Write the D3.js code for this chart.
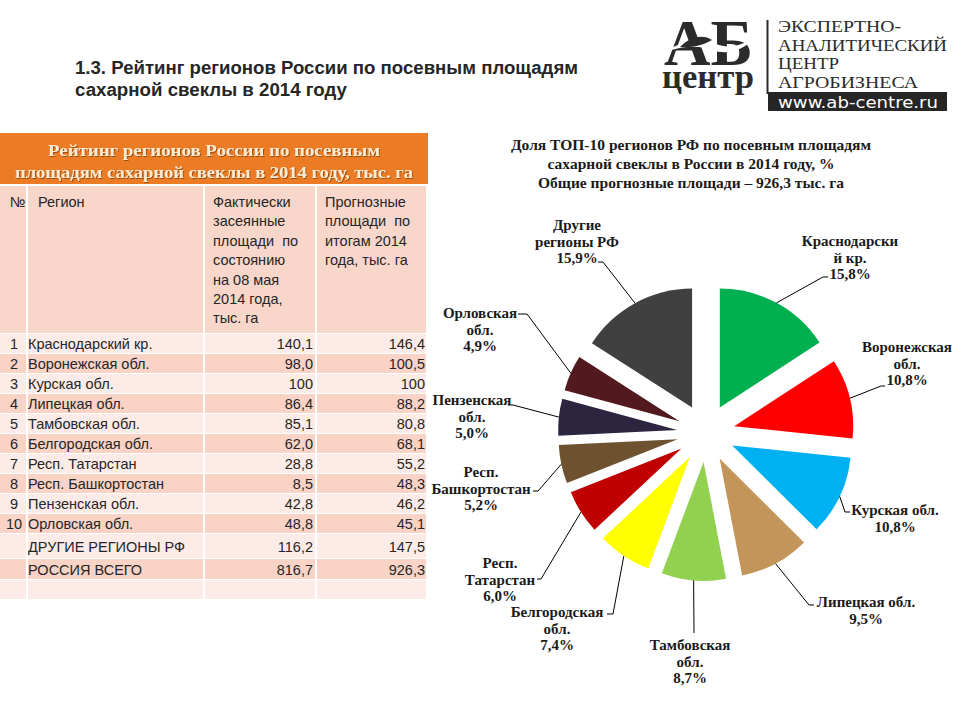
<!DOCTYPE html>
<html><head><meta charset="utf-8">
<script src="https://cdn.jsdelivr.net/npm/d3@7"></script>
<style>body{margin:0;background:#fff} svg{display:block}</style>
</head><body>
<svg id="c" width="960" height="720"></svg>
<script>
// ---------- DATA ----------
const ranks = ["1","2","3","4","5","6","7","8","9","10","",""];
const regions = ["Краснодарский кр.","Воронежская обл.","Курская обл.","Липецкая обл.","Тамбовская обл.","Белгородская обл.","Респ. Татарстан","Респ. Башкортостан","Пензенская обл.","Орловская обл.","ДРУГИЕ РЕГИОНЫ РФ","РОССИЯ ВСЕГО"];
const actualText = ["140,1","98,0","100","86,4","85,1","62,0","28,8","8,5","42,8","48,8","116,2","816,7"];
const forecastText = ["146,4","100,5","100","88,2","80,8","68,1","55,2","48,3","46,2","45,1","147,5","926,3"];
const pieCategories = [["Краснодарски","й кр."],["Воронежская","обл."],["Курская обл."],["Липецкая обл."],["Тамбовская","обл."],["Белгородская","обл."],["Респ.","Татарстан"],["Респ.","Башкортостан"],["Пензенская","обл."],["Орловская","обл."],["Другие","регионы РФ"]];
const pieColors = ["#00B050","#FF0000","#00B0F0","#C4955A","#92D050","#FFFF00","#C00000","#6E5230","#2D2540","#521A1F","#404040"];
const tableTitle = ["Рейтинг регионов России по посевным","площадям сахарной свеклы в 2014 году, тыс. га"];
const colHeaders = [["№"],["Регион"],["Фактически","засеянные","площади  по","состоянию","на 08 мая","2014 года,","тыс. га"],["Прогнозные","площади  по","итогам 2014","года, тыс. га"]];
const pageTitle = ["1.3. Рейтинг регионов России по посевным площадям","сахарной свеклы в 2014 году"];
const pieTitle = ["Доля ТОП-10 регионов РФ по посевным площадям","сахарной свеклы в России в 2014 году, %","Общие прогнозные площади – 926,3 тыс. га"];

const parseNum = s => +s.replace(",", ".");
const pieValues = forecastText.slice(0, 11).map(parseNum);
const total = parseNum(forecastText[11]);

// ---------- LAYOUT ----------
const labelLayout = [
  {x:850, y:241, pts:[[823,277],[828,277]]},
  {x:907, y:347, pts:[[881,386],[885,386]]},
  {x:895, y:510, pts:[[845,512],[850,512]]},
  {x:866, y:602, pts:[[809,605],[814,605]]},
  {x:690, y:645, pts:[[694,633]]},
  {x:557, y:612, pts:[[613,614],[607,614]]},
  {x:500, y:563, pts:[[541,579],[537,579]]},
  {x:481, y:472, pts:[[538,491],[533,491]]},
  {x:472, y:400, pts:[[513,405],[508,405]]},
  {x:480, y:313, pts:[[527,314],[518,314]]},
  {x:577, y:225, pts:[[603,262],[598,262]]}
];

const svg = d3.select("#c");
const defs = svg.append("defs");
const f = defs.append("filter").attr("id","sh").attr("x","-5%").attr("y","-20%").attr("width","110%").attr("height","140%");
f.append("feDropShadow").attr("dx",1).attr("dy",1).attr("stdDeviation",0.6).attr("flood-color","#7a3a00").attr("flood-opacity",0.7);

// ---------- PAGE TITLE ----------
svg.selectAll("text.pt").data(pageTitle).join("text")
  .attr("x", 75).attr("y", (d,i) => 74 + i*22)
  .attr("font-family", "'Liberation Sans Narrow','Arial Narrow','Liberation Sans',sans-serif")
  .attr("font-weight", "bold").attr("font-size", 18).attr("fill", "#262626")
  .attr("textLength", (d,i) => i === 0 ? 503 : 272).attr("lengthAdjust", "spacingAndGlyphs")
  .text(d => d);

// ---------- LOGO ----------
const logo = svg.append("g");
const lt = logo.append("text").attr("font-family","'Liberation Serif',serif")
  .attr("font-weight","bold").attr("fill","#2b2b2b");
lt.append("tspan").attr("x", 664).attr("y", 65).attr("font-size",66)
  .attr("textLength",89).attr("lengthAdjust","spacingAndGlyphs").text("АБ");
lt.append("tspan").attr("x", 662).attr("y", 88).attr("font-size",34)
  .attr("textLength",92).attr("lengthAdjust","spacingAndGlyphs").text("центр");
logo.append("path").attr("d","M664,52 C684,40 700,38 716,44 C728,49 740,46 754,38 C742,52 726,55 712,50 C698,45 684,46 664,52 Z")
  .attr("fill","#fff");
logo.append("path").attr("d","M680,47 C690,36 704,34 712,40 C702,46 690,48 680,47 Z").attr("fill","#2b2b2b");
logo.append("line").attr("x1",767.5).attr("x2",767.5).attr("y1",20).attr("y2",94).attr("stroke","#2b2b2b").attr("stroke-width",2);
const logoLines = ["ЭКСПЕРТНО-","АНАЛИТИЧЕСКИЙ","ЦЕНТР","АГРОБИЗНЕСА"];
const logoW = [123, 169, 61, 140];
logo.selectAll("text.ll").data(logoLines).join("text")
  .attr("x", 778).attr("y", (d,i) => 32 + i*18.5)
  .attr("font-family","'Liberation Serif',serif").attr("font-size",17).attr("fill","#2b2b2b")
  .attr("textLength",(d,i)=>logoW[i]).attr("lengthAdjust","spacingAndGlyphs").text(d => d);
logo.append("rect").attr("x",768).attr("y",92).attr("width",179).attr("height",19).attr("fill","#262626");
logo.append("text").attr("x",778).attr("y",107.5).attr("font-family","'DejaVu Sans Condensed','DejaVu Sans',sans-serif")
  .attr("font-size",16).attr("fill","#fff").attr("textLength",160).attr("lengthAdjust","spacingAndGlyphs").text("www.ab-centre.ru");

// ---------- TABLE ----------
const colX = [0, 28, 205, 317, 428];
const tbl = svg.append("g");
tbl.append("rect").attr("x",0).attr("y",133).attr("width",428).attr("height",51).attr("fill","#EC7B25");
const ttLen = [332, 398];
tbl.selectAll("text.tt").data(tableTitle).join("text")
  .attr("x", 214).attr("y", (d,i) => 156 + i*22).attr("text-anchor","middle")
  .attr("font-family","'Liberation Serif','Times New Roman',serif").attr("font-weight","bold")
  .attr("font-size",17.5).attr("fill","#FCEBD3").attr("filter","url(#sh)")
  .attr("textLength",(d,i)=>ttLen[i]).attr("lengthAdjust","spacingAndGlyphs").text(d => d);

const headerTop = 186, headerBot = 334;
const rowTops = d3.range(10).map(i => 334 + 20*i).concat([534, 559, 580]);
const rowBots = rowTops.slice(1).concat([600]);
colX.slice(0,4).forEach((x,j) => {
  tbl.append("rect").attr("x", x).attr("y", headerTop).attr("width", colX[j+1]-x-2).attr("height", headerBot-headerTop-1).attr("fill","#F9D6CA");
});
rowTops.forEach((t,i) => {
  const fill = i % 2 === 0 ? "#FCEBE6" : "#F9D3C6";
  colX.slice(0,4).forEach((x,j) => {
    tbl.append("rect").attr("x", x).attr("y", t).attr("width", colX[j+1]-x-2).attr("height", rowBots[i]-t-1).attr("fill", fill);
  });
});
const hx = [10, 38, 213, 325];
colHeaders.forEach((lines,j) => {
  tbl.selectAll(null).data(lines).join("text")
    .attr("x", hx[j]).attr("y", (d,i) => 207 + i*19.4)
    .attr("font-family","'Liberation Sans',Arial,sans-serif").attr("font-size",14.5).attr("fill","#262626")
    .style("white-space","pre").text(d => d);
});
const rowCenters = rowTops.map((t,i) => (t + rowBots[i]) / 2);
const rowsData = regions.map((r,i) => ({rank: ranks[i], region: r, a: actualText[i], f: forecastText[i], cy: rowCenters[i]}));
const tf = "'Liberation Sans',Arial,sans-serif";
const rg = tbl.selectAll("g.row").data(rowsData).join("g");
rg.append("text").attr("x",14).attr("y",d=>d.cy+5).attr("text-anchor","middle").attr("font-family",tf).attr("font-size",14.5).attr("fill","#262626").text(d=>d.rank);
rg.append("text").attr("x",28).attr("y",d=>d.cy+5).attr("font-family",tf).attr("font-size",14.5).attr("fill","#262626").text(d=>d.region);
rg.append("text").attr("x",313).attr("y",d=>d.cy+5).attr("text-anchor","end").attr("font-family",tf).attr("font-size",14.5).attr("fill","#262626").text(d=>d.a);
rg.append("text").attr("x",425).attr("y",d=>d.cy+5).attr("text-anchor","end").attr("font-family",tf).attr("font-size",14.5).attr("fill","#262626").text(d=>d.f);

// ---------- PIE ----------
const pt = svg.append("g");
pt.selectAll("text").data(pieTitle).join("text")
  .attr("x", 691).attr("y", (d,i) => 150 + i*19).attr("text-anchor","middle")
  .attr("font-family","'Liberation Serif','Times New Roman',serif").attr("font-weight","bold")
  .attr("font-size",15.5).attr("fill","#1a1a1a").text(d => d);

const cx = 706, cy = 433, R = 119, explode = 29;
const pie = d3.pie().sort(null).value(d => d)(pieValues);
const arc = d3.arc().innerRadius(0).outerRadius(R);
const g = svg.append("g").attr("transform", `translate(${cx},${cy})`);
const mid = d => (d.startAngle + d.endAngle) / 2;
g.selectAll("path").data(pie).join("path")
  .attr("transform", d => `translate(${Math.sin(mid(d))*explode},${-Math.cos(mid(d))*explode})`)
  .attr("d", arc).attr("fill", (d,i) => pieColors[i]);

const pctFmt = v => (v / total * 100).toFixed(1).replace(".", ",") + "%";
const lab = svg.append("g");
pie.forEach((d,i) => {
  const L = labelLayout[i];
  const m = mid(d);
  const start = [cx + Math.sin(m)*(R+explode), cy - Math.cos(m)*(R+explode)];
  lab.append("path").attr("d", d3.line()([start].concat(L.pts)))
    .attr("fill","none").attr("stroke","#000").attr("stroke-width",1);
  const lines = pieCategories[i].concat([pctFmt(d.value)]);
  lab.selectAll(null).data(lines).join("text")
    .attr("x", L.x).attr("y", (t,k) => L.y + 5 + k*16.6).attr("text-anchor","middle")
    .attr("font-family","'Liberation Serif','Times New Roman',serif").attr("font-weight","bold")
    .attr("font-size",15).attr("fill","#1a1a1a").text(t => t);
});
</script>
</body></html>
